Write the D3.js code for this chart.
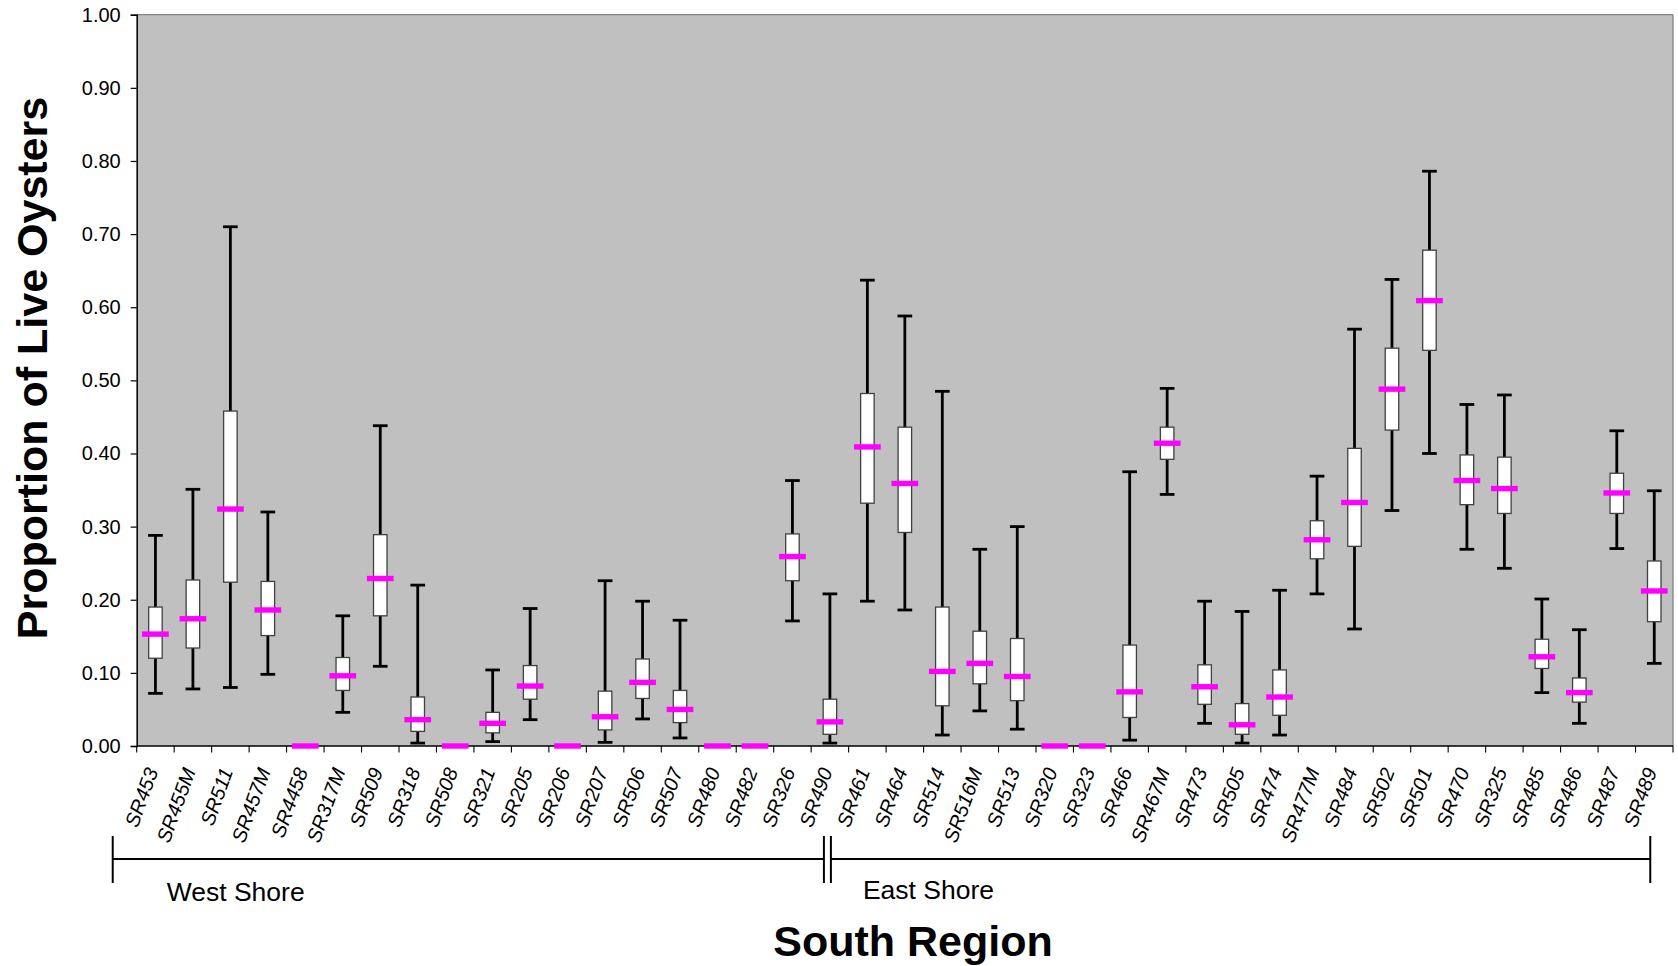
<!DOCTYPE html>
<html>
<head>
<meta charset="utf-8">
<script src="https://cdn.jsdelivr.net/npm/d3@7"></script>
<style>
  html, body { margin: 0; padding: 0; background: #ffffff; }
  svg { display: block; }
  text { font-family: "Liberation Sans", Arial, Helvetica, sans-serif; fill: #000; }
</style>
</head>
<body>
<svg id="chart" width="1678" height="966"></svg>
<script>
// Sampling sites, in plotting order
const sites = ["SR453","SR455M","SR511","SR457M","SR4458","SR317M","SR509","SR318","SR508","SR321",
  "SR205","SR206","SR207","SR506","SR507","SR480","SR482","SR326","SR490",
  "SR461","SR464","SR514","SR516M","SR513","SR320","SR323","SR466","SR467M","SR473",
  "SR505","SR474","SR477M","SR484","SR502","SR501","SR470","SR325","SR485","SR486","SR487","SR489"];

// Proportion of live oysters per site: whisker ends, box edges and median
const whiskerLow  = [0.072,0.078,0.080,0.098,0,0.046,0.109,0.004,0,0.006,0.036,0,0.005,0.037,0.011,0,0,0.171,0.004,
  0.198,0.186,0.015,0.048,0.023,0,0,0.008,0.344,0.031,0.004,0.015,0.208,0.160,0.322,0.400,0.269,0.243,0.073,0.031,0.270,0.113];
const boxLow      = [0.120,0.134,0.224,0.151,0,0.076,0.178,0.020,0,0.018,0.064,0,0.022,0.065,0.032,0,0,0.226,0.016,
  0.332,0.292,0.055,0.085,0.062,0,0,0.039,0.392,0.057,0.016,0.042,0.256,0.273,0.432,0.541,0.330,0.318,0.106,0.060,0.318,0.170];
const median      = [0.153,0.174,0.324,0.186,0,0.096,0.229,0.036,0,0.031,0.082,0,0.040,0.087,0.050,0,0,0.259,0.033,
  0.409,0.359,0.102,0.113,0.095,0,0,0.074,0.414,0.081,0.029,0.067,0.282,0.333,0.488,0.609,0.363,0.352,0.122,0.073,0.346,0.212];
const boxHigh     = [0.190,0.227,0.458,0.225,0,0.121,0.289,0.067,0,0.046,0.110,0,0.075,0.119,0.076,0,0,0.290,0.064,
  0.482,0.436,0.190,0.157,0.147,0,0,0.138,0.436,0.111,0.058,0.104,0.308,0.407,0.544,0.678,0.398,0.395,0.146,0.093,0.373,0.253];
const whiskerHigh = [0.288,0.351,0.710,0.320,0,0.178,0.438,0.220,0,0.104,0.188,0,0.226,0.198,0.172,0,0,0.363,0.208,
  0.637,0.588,0.485,0.269,0.300,0,0,0.375,0.489,0.198,0.184,0.213,0.369,0.570,0.638,0.786,0.467,0.480,0.201,0.159,0.431,0.349];

const yTicks = [0,0.1,0.2,0.3,0.4,0.5,0.6,0.7,0.8,0.9,1.0];

// Shore groups: first and last site of each
const groups = [
  { name: "West Shore", first: "SR453", last: "SR490" },
  { name: "East Shore", first: "SR461", last: "SR489" }
];

const yTitle = "Proportion of Live Oysters";
const xTitle = "South Region";

const rows = sites.map((s, i) => ({
  site: s, wl: whiskerLow[i], bl: boxLow[i], med: median[i], bh: boxHigh[i], wh: whiskerHigh[i]
}));

const svg = d3.select("#chart");
const plot = { left: 136.7, right: 1673, top: 14.7, bottom: 746 };

const x = d3.scaleBand().domain(sites).range([plot.left, plot.right]).padding(0);
const y = d3.scaleLinear().domain([0, 1]).range([plot.bottom, plot.top]);
const bw = x.bandwidth();
const cx = s => x(s) + bw / 2;

// Plot area background and frame
svg.append("rect")
  .attr("x", plot.left).attr("y", plot.top)
  .attr("width", plot.right - plot.left).attr("height", plot.bottom - plot.top)
  .attr("fill", "#c0c0c0");
svg.append("line")
  .attr("x1", plot.left).attr("x2", plot.right).attr("y1", plot.top).attr("y2", plot.top)
  .attr("stroke", "#808080").attr("stroke-width", 1.3);
svg.append("line")
  .attr("x1", plot.right).attr("x2", plot.right).attr("y1", plot.top).attr("y2", plot.bottom)
  .attr("stroke", "#808080").attr("stroke-width", 1.3);

// Y axis
const yAxis = svg.append("g")
  .attr("transform", `translate(${plot.left},0)`)
  .call(d3.axisLeft(y).tickValues(yTicks).tickFormat(d3.format(".2f")).tickSize(6).tickPadding(10));
yAxis.select(".domain").attr("stroke", "#000").attr("stroke-width", 1.5);
yAxis.selectAll(".tick line").attr("stroke", "#000").attr("stroke-width", 1.2);
yAxis.selectAll(".tick text")
  .attr("font-size", 20).attr("font-family", "'Liberation Sans', Arial, sans-serif").attr("fill", "#000");

// X axis: ticks at category boundaries
const xAxisG = svg.append("g").attr("transform", `translate(0,${plot.bottom})`);
xAxisG.append("line")
  .attr("x1", plot.left).attr("x2", plot.right).attr("y1", 0).attr("y2", 0)
  .attr("stroke", "#000").attr("stroke-width", 1.5);
const boundaries = sites.map(s => x(s)).concat([plot.right]);
xAxisG.selectAll("line.tk").data(boundaries).join("line")
  .attr("class", "tk")
  .attr("x1", d => d).attr("x2", d => d).attr("y1", 0).attr("y2", 6.5)
  .attr("stroke", "#000").attr("stroke-width", 1.1);

// Rotated site labels
svg.append("g").selectAll("text").data(sites).join("text")
  .attr("transform", d => `translate(${cx(d) + 3},${plot.bottom + 25}) rotate(-70)`)
  .attr("text-anchor", "end")
  .attr("font-size", 20)
  .attr("font-style", "italic")
  .text(d => d);

// Box plots
const marks = svg.append("g");
const capW = 14.7, boxW = 13.5, medW = 26.7;

const g = marks.selectAll("g.site").data(rows).join("g").attr("class", "site");

// whisker stems
g.append("line")
  .attr("x1", d => cx(d.site)).attr("x2", d => cx(d.site))
  .attr("y1", d => y(d.wl)).attr("y2", d => y(d.wh))
  .attr("stroke", "#000").attr("stroke-width", 2.8);
// whisker caps
g.append("line")
  .attr("x1", d => cx(d.site) - capW / 2).attr("x2", d => cx(d.site) + capW / 2)
  .attr("y1", d => y(d.wh)).attr("y2", d => y(d.wh))
  .attr("stroke", "#000").attr("stroke-width", 2.8);
g.append("line")
  .attr("x1", d => cx(d.site) - capW / 2).attr("x2", d => cx(d.site) + capW / 2)
  .attr("y1", d => y(d.wl)).attr("y2", d => y(d.wl))
  .attr("stroke", "#000").attr("stroke-width", 2.8);
// interquartile box
g.append("rect")
  .attr("x", d => cx(d.site) - boxW / 2).attr("width", boxW)
  .attr("y", d => y(d.bh)).attr("height", d => y(d.bl) - y(d.bh))
  .attr("fill", "#fff").attr("stroke", "#404040").attr("stroke-width", 1.3);
// median
g.append("rect")
  .attr("x", d => cx(d.site) - medW / 2).attr("width", medW)
  .attr("y", d => y(d.med) - 2.7).attr("height", 5.4)
  .attr("fill", "#ff00ff");

// Shore brackets below the site labels
const bracketY = 859, barTop = 836, barBot = 883;
const westStart = cx(groups[0].first) - 1.14 * bw;
const westEnd = cx(groups[0].last) - 6;
const eastStart = cx(groups[0].last) + 1;
const eastEnd = cx(groups[1].last) - 4;
const br = svg.append("g").attr("stroke", "#000").attr("stroke-width", 2);
br.append("line").attr("x1", westStart).attr("x2", westEnd).attr("y1", bracketY).attr("y2", bracketY);
br.append("line").attr("x1", eastStart).attr("x2", eastEnd).attr("y1", bracketY).attr("y2", bracketY);
[westStart, westEnd, eastStart, eastEnd].forEach(v => {
  br.append("line").attr("x1", v).attr("x2", v).attr("y1", barTop).attr("y2", barBot);
});

svg.append("text").attr("x", westStart + 54).attr("y", 901)
  .attr("font-size", 26.5).text(groups[0].name);
svg.append("text").attr("x", eastStart + 32).attr("y", 899)
  .attr("font-size", 26.5).text(groups[1].name);

// Axis titles
svg.append("text")
  .attr("transform", `translate(47,368) rotate(-90)`)
  .attr("text-anchor", "middle")
  .attr("font-size", 43).attr("font-weight", "bold")
  .text(yTitle);
svg.append("text")
  .attr("x", 913).attr("y", 956)
  .attr("text-anchor", "middle")
  .attr("font-size", 43).attr("font-weight", "bold")
  .text(xTitle);
</script>
</body>
</html>
